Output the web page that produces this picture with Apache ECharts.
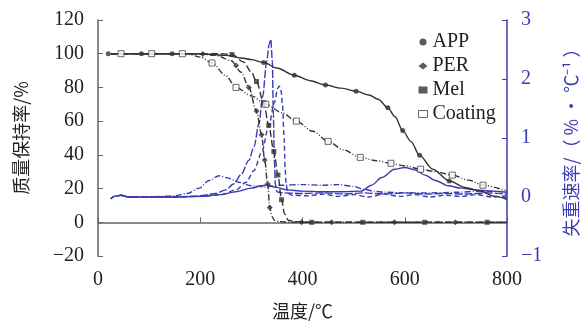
<!DOCTYPE html>
<html>
<head>
<meta charset="utf-8">
<script src="https://cdn.jsdelivr.net/npm/echarts@6/dist/echarts.min.js"></script>
<style>
  html, body { margin: 0; padding: 0; background: #fff; }
  #chart { width: 588px; height: 325px; }
</style>
</head>
<body>
<div id="chart"></div>
<script>
// TG curves: temperature (℃) -> mass retention (%)
const appT = [25, 100, 200, 250, 280, 300, 324, 350, 384, 415, 445, 475, 505, 530, 548, 567, 581, 596, 612, 629, 655, 687, 720, 748, 775, 800];
const appW = [100, 100, 100, 99, 97.5, 96.5, 94.8, 91.5, 87.2, 84, 81.4, 79.6, 77.8, 75.5, 73, 67.9, 62.6, 54.4, 48, 39.7, 31.5, 24.5, 20.5, 18.6, 15.5, 13.5];

const perT = [25, 100, 150, 200, 230, 260, 280, 295, 310, 320, 326, 332, 336, 340, 345, 355, 380, 450, 600, 800];
const perW = [100, 100, 100, 99.8, 99, 96, 89, 80, 66, 52, 37, 22, 9, 3.5, 1.2, 0.4, 0, 0, 0, 0];

const melT = [25, 100, 200, 240, 262, 285, 300, 310, 324, 334, 344, 352, 359, 365, 372, 385, 420, 600, 800];
const melW = [100, 100, 100, 100, 99.5, 95, 89, 83.5, 71, 57.5, 42, 28, 13.4, 5, 1.2, 0.4, 0, 0, 0];

const coatT = [25, 100, 150, 180, 200, 223, 250, 270, 300, 328, 360, 388, 420, 450, 480, 513, 545, 573, 600, 631, 660, 693, 725, 753, 800];
const coatW = [100, 100, 100, 99.5, 98, 94.5, 87, 80, 75, 70, 65, 60, 54, 48, 43, 38.5, 36.5, 35, 33.5, 31.5, 30, 28, 25, 22, 18.5];

// marker positions on the TG curves [T, W]
const appMarks = [[20, 100], [85, 100], [145, 100], [324, 94.8], [384, 87.2], [445, 81.4], [505, 77.8], [567, 67.9], [596, 54.4], [629, 39.7], [687, 24.5]];
const perMarks = [[205, 99.8], [270, 93], [295, 80], [310, 66], [320, 52], [326, 37], [332, 22.7], [336, 8.7], [398, 0], [457, 0], [580, 0], [699, 0]];
const melMarks = [[262, 99.5], [310, 83.5], [324, 71], [334, 57.5], [344, 42], [352, 28], [359, 13.4], [418, 0], [518, 0], [639, 0], [761, 0]];
const coatMarks = [[45, 100], [105, 100], [165, 100], [223, 94.5], [270, 80], [328, 70], [388, 60], [450, 48], [513, 38.5], [573, 35], [631, 31.5], [693, 28], [753, 22]];

// DTG curves: temperature (℃) -> mass loss rate (%/℃)
const appDT = [25, 32, 45, 60, 100, 150, 200, 240, 270, 300, 320, 332, 345, 370, 400, 440, 480, 515, 535, 555, 580, 600, 620, 640, 660, 685, 710, 740, 770, 800];
const appDR = [-0.03, 0.01, 0.03, 0, 0, 0, 0.01, 0.04, 0.09, 0.15, 0.19, 0.21, 0.17, 0.12, 0.1, 0.09, 0.09, 0.1, 0.2, 0.33, 0.47, 0.5, 0.46, 0.37, 0.28, 0.19, 0.15, 0.12, 0.1, 0.08];

const perDT = [25, 32, 45, 60, 100, 150, 200, 230, 250, 265, 280, 295, 305, 315, 322, 330, 335, 338, 341, 343, 345, 347, 350, 360, 400, 440, 480, 520, 560, 600, 640, 680, 720, 760, 800];
const perDR = [-0.03, 0.01, 0.03, 0, 0, 0, 0.02, 0.06, 0.12, 0.22, 0.38, 0.62, 0.85, 1.25, 1.7, 2.3, 2.6, 2.67, 2.3, 1.4, 0.6, 0.2, 0.09, 0.07, 0.06, 0.07, 0.05, 0.07, 0.05, 0.07, 0.05, 0.06, 0.05, 0.07, 0.05];

const melDT = [25, 32, 45, 60, 100, 150, 200, 240, 270, 290, 305, 320, 334, 345, 352, 355, 358, 361, 364, 366, 368, 372, 380, 410, 440, 470, 500, 530, 560, 590, 620, 650, 680, 710, 740, 770, 800];
const melDR = [-0.03, 0.01, 0.03, 0, 0, 0, 0.01, 0.04, 0.12, 0.25, 0.45, 0.75, 1.2, 1.6, 1.85, 1.88, 1.8, 1.55, 1.0, 0.5, 0.2, 0.06, 0.03, 0.02, 0.05, 0.01, 0.04, 0.0, 0.05, 0.01, 0.04, 0.0, 0.03, 0.01, 0.04, 0.0, 0.02];

const coatDT = [25, 32, 45, 60, 100, 150, 175, 198, 217, 237, 255, 275, 300, 328, 360, 400, 440, 470, 500, 520, 540, 560, 600, 650, 700, 750, 800];
const coatDR = [-0.03, 0.01, 0.03, 0, 0, 0.02, 0.06, 0.15, 0.28, 0.36, 0.32, 0.25, 0.19, 0.17, 0.2, 0.21, 0.2, 0.21, 0.18, 0.13, 0.1, 0.08, 0.07, 0.07, 0.08, 0.1, 0.09];

const xTicks = [0, 200, 400, 600, 800];

const BLACK = '#333';
const BLUE = '#3b3bb3';
const NUM_FONT = '"Liberation Serif", "DejaVu Serif", serif';
const CJK_FONT = '"Noto Sans CJK SC", sans-serif';

const zip = (xs, ys) => xs.map((x, i) => [x, ys[i]]);
const minus = (v) => String(v).replace('-', '−');

function tgLine(name, t, w, dash) {
  return {
    name, type: 'line', yAxisIndex: 0, data: zip(t, w),
    smooth: 0.3, smoothMonotone: 'x', symbol: 'none',
    itemStyle: { color: BLACK },
    lineStyle: { color: BLACK, width: 1.4, type: dash },
    z: 2,
  };
}

function dtgLine(name, t, r, dash) {
  return {
    name, type: 'line', yAxisIndex: 1, data: zip(t, r),
    smooth: 0.3, smoothMonotone: 'x', symbol: 'none',
    lineStyle: { color: BLUE, width: 1.4, type: dash },
    z: 1,
  };
}

function marks(name, data, symbol, size, style) {
  return {
    name, type: 'scatter', yAxisIndex: 0, data,
    symbol, symbolSize: size, itemStyle: style, z: 4,
  };
}

const chart = echarts.init(document.getElementById('chart'));

chart.setOption({
  animation: false,
  grid: { left: 98, right: 77, top: 20, bottom: 66 },
  legend: {
    orient: 'vertical', left: 413, top: 27,
    itemWidth: 9, itemHeight: 7, itemGap: 4,
    textStyle: { fontFamily: NUM_FONT, fontSize: 20, lineHeight: 20, color: '#222' },
    data: [
      { name: 'APP', icon: 'circle' },
      { name: 'PER', icon: 'diamond' },
      { name: 'Mel', icon: 'rect' },
      { name: 'Coating', icon: 'rect', itemStyle: { color: '#fff', borderColor: '#444', borderWidth: 1 } },
    ],
  },
  xAxis: {
    type: 'value', min: xTicks[0], max: xTicks[xTicks.length - 1], interval: 200,
    name: '温度/℃', nameLocation: 'middle', nameGap: 46,
    nameTextStyle: { fontFamily: CJK_FONT, fontSize: 18, color: '#222' },
    axisLine: { lineStyle: { color: '#666', width: 1.5 } },
    axisTick: { inside: true, length: 5, lineStyle: { color: '#666' } },
    axisLabel: { margin: 14, fontFamily: NUM_FONT, fontSize: 20, color: '#222' },
    splitLine: { show: false },
  },
  yAxis: [
    {
      type: 'value', min: -20, max: 120, interval: 20,
      name: '质量保持率/%', nameLocation: 'middle', nameGap: 68, nameRotate: 90,
      nameTextStyle: { fontFamily: CJK_FONT, fontSize: 18, color: '#222' },
      axisLine: { show: true, lineStyle: { color: '#666', width: 1.5 } },
      axisTick: { show: true, inside: true, length: 5, lineStyle: { color: '#666' } },
      axisLabel: { margin: 14, fontFamily: NUM_FONT, fontSize: 20, color: '#222', formatter: minus },
      splitLine: { show: false },
    },
    {
      type: 'value', min: -1, max: 3, interval: 1, position: 'right',
      name: '失重速率/（ % · ℃⁻¹ ）', nameLocation: 'middle', nameGap: 55, nameRotate: 90,
      nameTextStyle: { fontFamily: CJK_FONT, fontSize: 18, color: BLUE },
      axisLine: { show: true, lineStyle: { color: BLUE, width: 1.5 } },
      axisTick: { show: true, inside: true, length: 5, lineStyle: { color: BLUE } },
      axisLabel: { margin: 14, fontFamily: NUM_FONT, fontSize: 20, color: BLUE, formatter: minus },
      splitLine: { show: false },
    },
  ],
  series: [
    marks('APP', appMarks, 'circle', 5, { color: BLACK }),
    marks('PER', perMarks, 'diamond', 6, { color: BLACK }),
    marks('Mel', melMarks, 'rect', 5, { color: BLACK }),
    marks('Coating', coatMarks, 'rect', 6, { color: '#fff', borderColor: '#444', borderWidth: 1 }),
    tgLine('APP', appT, appW, 'solid'),
    tgLine('PER', perT, perW, [6, 2, 1, 2]),
    tgLine('Mel', melT, melW, [7, 3]),
    tgLine('Coating', coatT, coatW, [6, 2, 1, 2, 1, 2]),
    dtgLine('APP DTG', appDT, appDR, 'solid'),
    dtgLine('PER DTG', perDT, perDR, [8, 2]),
    dtgLine('Mel DTG', melDT, melDR, [5, 3]),
    dtgLine('Coating DTG', coatDT, coatDR, [6, 2, 1, 2]),
  ],
});
</script>
</body>
</html>
